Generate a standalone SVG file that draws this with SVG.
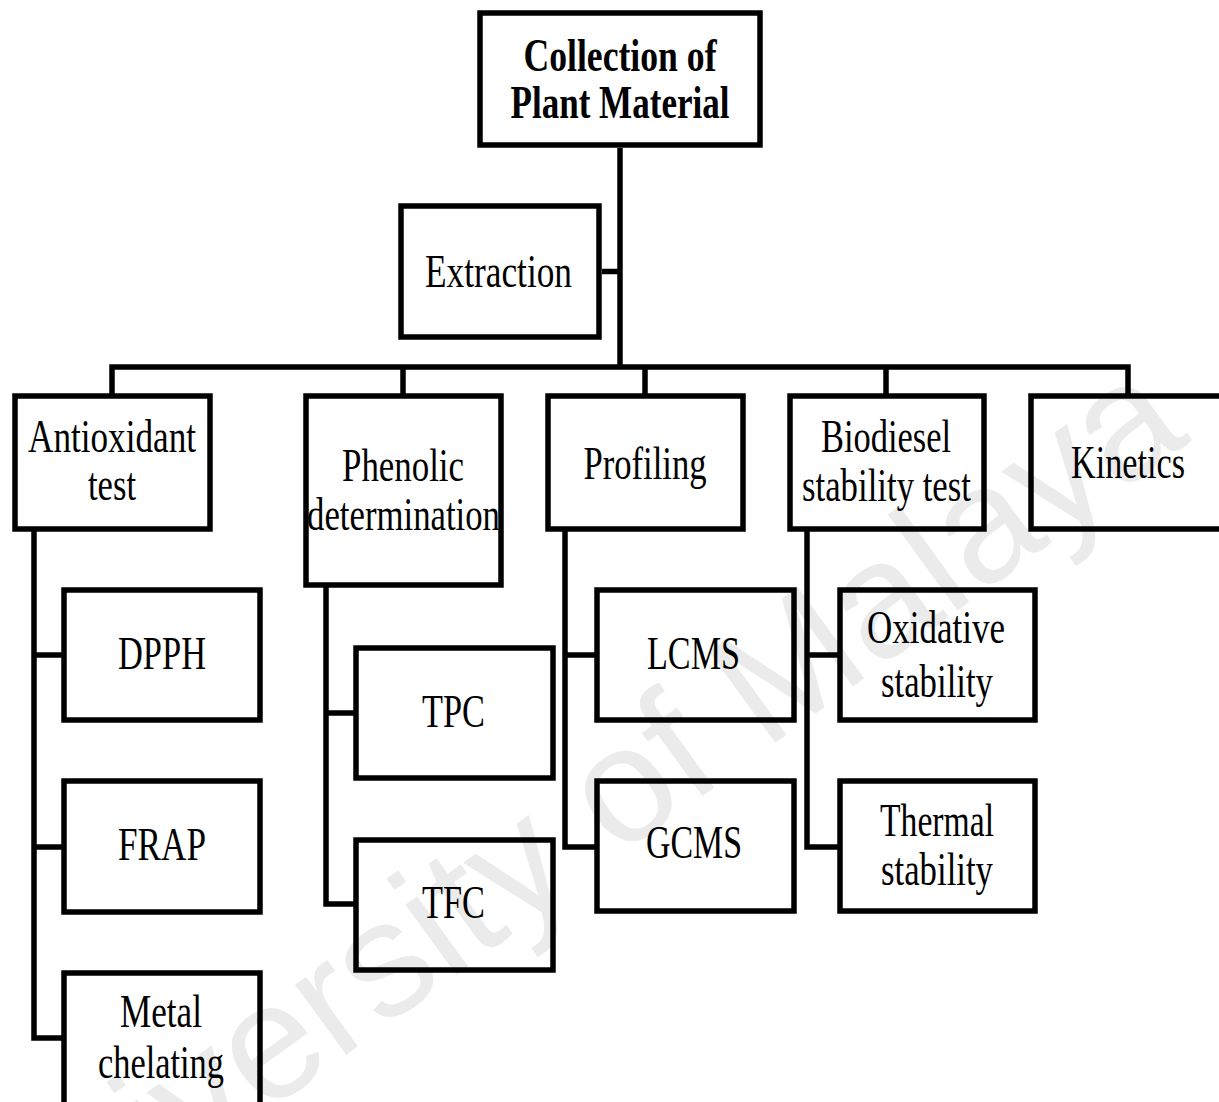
<svg xmlns="http://www.w3.org/2000/svg" width="1219" height="1102" viewBox="0 0 1219 1102">
<style>
.box{fill:none;stroke:#000;stroke-width:5.5;stroke-linejoin:miter}
.con{fill:none;stroke:#000;stroke-width:5.5;stroke-linejoin:miter;stroke-linecap:butt}
.t{font-family:"Liberation Serif","Times New Roman",serif;font-size:47px;fill:#000;text-anchor:middle}
.b{font-weight:bold}
.wm{font-family:"Liberation Sans",Arial,sans-serif;font-size:164px;fill:#ebebeb;text-anchor:middle}
</style>
<rect width="1219" height="1102" fill="#fff"/>
<text class="wm" transform="translate(595,874) rotate(-36)">University of Malaya</text>
<g id="connectors">
<path class="con" d="M620 148 V367"/>
<path class="con" d="M602 271.5 H620"/>
<path class="con" d="M112 396 V367 H1128 V396"/>
<path class="con" d="M403 367 V396 M645 367 V396 M886 367 V396"/>
<path class="con" d="M34 529 V1038 H64 M34 655 H64 M34 847 H64"/>
<path class="con" d="M326 585 V904 H356 M326 713 H356"/>
<path class="con" d="M565 529 V847 H597 M565 655 H597"/>
<path class="con" d="M807 529 V847 H840 M807 655 H840"/>
</g>
<g id="n-collection"><rect class="box" x="480" y="13" width="280" height="132"/>
<text class="t b" x="620" y="71" textLength="193" lengthAdjust="spacingAndGlyphs">Collection of</text>
<text class="t b" x="620" y="118" textLength="219" lengthAdjust="spacingAndGlyphs">Plant Material</text></g>
<g id="n-extraction"><rect class="box" x="401" y="206" width="198" height="131"/>
<text class="t" x="498.5" y="287" textLength="147" lengthAdjust="spacingAndGlyphs">Extraction</text></g>
<g id="n-antioxidant"><rect class="box" x="15" y="396" width="195" height="133"/>
<text class="t" x="112" y="452" textLength="168" lengthAdjust="spacingAndGlyphs">Antioxidant</text>
<text class="t" x="112" y="500" textLength="48" lengthAdjust="spacingAndGlyphs">test</text></g>
<g id="n-phenolic"><rect class="box" x="306" y="396" width="195" height="189"/>
<text class="t" x="403" y="481" textLength="122" lengthAdjust="spacingAndGlyphs">Phenolic</text>
<text class="t" x="403.5" y="530" textLength="193" lengthAdjust="spacingAndGlyphs">determination</text></g>
<g id="n-profiling"><rect class="box" x="548" y="396" width="195" height="133"/>
<text class="t" x="645" y="479" textLength="123" lengthAdjust="spacingAndGlyphs">Profiling</text></g>
<g id="n-biodiesel"><rect class="box" x="790" y="396" width="194" height="133"/>
<text class="t" x="886" y="452" textLength="130" lengthAdjust="spacingAndGlyphs">Biodiesel</text>
<text class="t" x="886.5" y="501" textLength="169" lengthAdjust="spacingAndGlyphs">stability test</text></g>
<g id="n-kinetics"><rect class="box" x="1031" y="396" width="200" height="133"/>
<text class="t" x="1128" y="478" textLength="114" lengthAdjust="spacingAndGlyphs">Kinetics</text></g>
<g id="n-dpph"><rect class="box" x="64" y="590" width="196" height="130"/>
<text class="t" x="162" y="669" textLength="88" lengthAdjust="spacingAndGlyphs">DPPH</text></g>
<g id="n-frap"><rect class="box" x="64" y="781" width="196" height="131"/>
<text class="t" x="162" y="860" textLength="88" lengthAdjust="spacingAndGlyphs">FRAP</text></g>
<g id="n-metal"><rect class="box" x="64" y="973" width="196" height="140"/>
<text class="t" x="161" y="1027" textLength="82" lengthAdjust="spacingAndGlyphs">Metal</text>
<text class="t" x="161" y="1078" textLength="126" lengthAdjust="spacingAndGlyphs">chelating</text></g>
<g id="n-tpc"><rect class="box" x="356" y="648" width="197" height="130"/>
<text class="t" x="453.5" y="727" textLength="63" lengthAdjust="spacingAndGlyphs">TPC</text></g>
<g id="n-tfc"><rect class="box" x="356" y="840" width="197" height="130"/>
<text class="t" x="453.5" y="918" textLength="63" lengthAdjust="spacingAndGlyphs">TFC</text></g>
<g id="n-lcms"><rect class="box" x="597" y="590" width="197" height="130"/>
<text class="t" x="693.5" y="669" textLength="93" lengthAdjust="spacingAndGlyphs">LCMS</text></g>
<g id="n-gcms"><rect class="box" x="597" y="781" width="197" height="130"/>
<text class="t" x="694" y="858" textLength="96" lengthAdjust="spacingAndGlyphs">GCMS</text></g>
<g id="n-oxidative"><rect class="box" x="840" y="590" width="195" height="130"/>
<text class="t" x="936" y="643" textLength="138" lengthAdjust="spacingAndGlyphs">Oxidative</text>
<text class="t" x="937" y="697" textLength="112" lengthAdjust="spacingAndGlyphs">stability</text></g>
<g id="n-thermal"><rect class="box" x="840" y="781" width="195" height="130"/>
<text class="t" x="937" y="836" textLength="114" lengthAdjust="spacingAndGlyphs">Thermal</text>
<text class="t" x="937" y="885" textLength="112" lengthAdjust="spacingAndGlyphs">stability</text></g>
</svg>
